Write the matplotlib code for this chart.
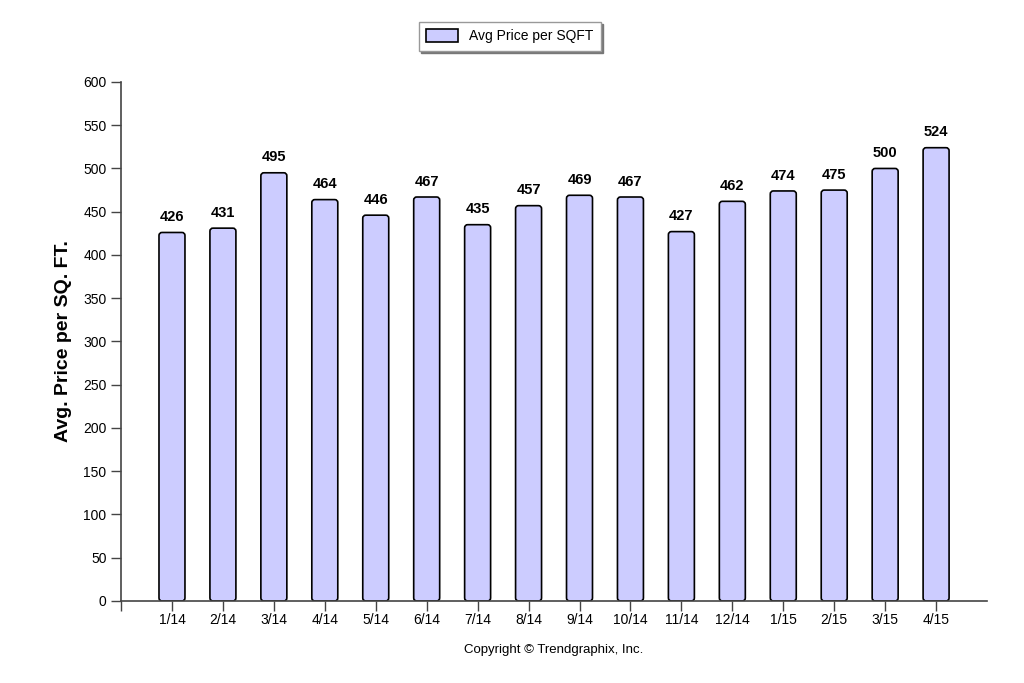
import matplotlib
matplotlib.use("Agg")
import matplotlib.pyplot as plt
from matplotlib.patches import FancyBboxPatch, Patch
import numpy as np

months = ["1/14", "2/14", "3/14", "4/14", "5/14", "6/14", "7/14", "8/14",
          "9/14", "10/14", "11/14", "12/14", "1/15", "2/15", "3/15", "4/15"]
price_sqft = [426, 431, 495, 464, 446, 467, 435, 457,
              469, 467, 427, 462, 474, 475, 500, 524]

plt.rcParams["font.family"] = ["Liberation Sans", "DejaVu Sans"]

fig = plt.figure(figsize=(10.24, 6.83), dpi=100)
ax = fig.add_axes([0.1182, 0.1201, 0.8457, 0.7599])

x = np.arange(len(months))
bars = ax.bar(x, price_sqft, width=0.51, visible=False)

ax.set_xlim(-1, len(months))
ax.set_ylim(0, 600)

# rounded-top bars, built from the bar rectangles
px_x = ax.get_position().width * fig.get_figwidth() * fig.dpi / (len(months) + 1)
px_y = ax.get_position().height * fig.get_figheight() * fig.dpi / 600
for b in bars:
    p = FancyBboxPatch((b.get_x(), b.get_y()), b.get_width(), b.get_height(),
                       boxstyle="round,pad=0,rounding_size=0.06",
                       mutation_aspect=px_x / px_y,
                       facecolor="#CCCCFF", edgecolor="black", linewidth=1.2,
                       zorder=2)
    ax.add_patch(p)

for xi, v in zip(x, price_sqft):
    ax.annotate(str(v), (xi, v), xytext=(0, 6), textcoords="offset points",
                ha="center", va="bottom", fontsize=10.5, fontweight="bold")

ax.set_yticks(np.arange(0, 601, 50))
ax.set_xticks(x)
ax.set_xticklabels(months)
ax.set_xticks([-1], minor=True)
ax.tick_params(axis="both", which="both", labelsize=10, length=7, width=1,
               color="#444444", direction="out")
ax.tick_params(axis="x", pad=2)

for side in ["top", "right"]:
    ax.spines[side].set_visible(False)
for side in ["left", "bottom"]:
    ax.spines[side].set_color("#444444")
    ax.spines[side].set_linewidth(1.2)

ax.set_ylabel("Avg. Price per SQ. FT.", fontsize=14, fontweight="bold", labelpad=8)

ax.text(0.5, -0.095, "Copyright \u00a9 Trendgraphix, Inc.", transform=ax.transAxes,
        ha="center", va="center", fontsize=9.5)

handle = Patch(facecolor="#CCCCFF", edgecolor="black", linewidth=1.2)
leg = fig.legend([handle], ["Avg Price per SQFT"], loc="center",
                 bbox_to_anchor=(0.498, 0.947), fontsize=10,
                 fancybox=False, shadow={"ox": 1.5, "oy": -1.5, "color": "#777777", "alpha": 1},
                 framealpha=1, borderpad=0.55, handlelength=2.3, handleheight=1.0)
leg.get_frame().set_edgecolor("#999999")
leg.get_frame().set_linewidth(1)

fig.savefig("out.png", dpi=100)
